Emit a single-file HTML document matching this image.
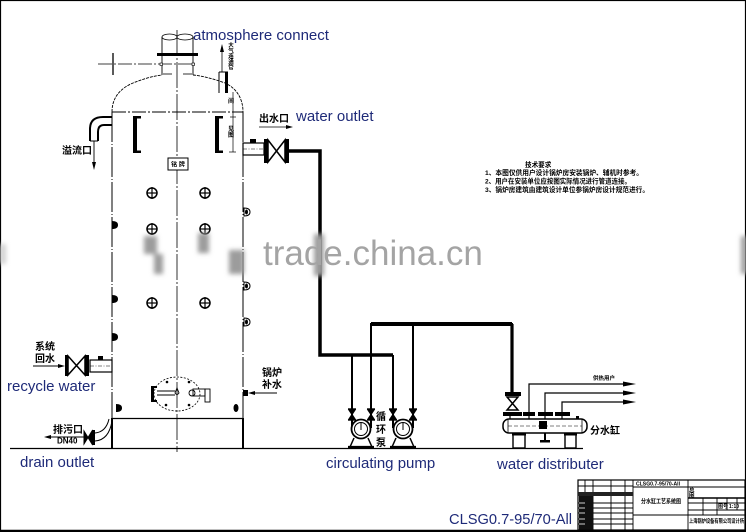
<!DOCTYPE html>
<html><head><meta charset="utf-8">
<style>
html,body{margin:0;padding:0;background:#fff;}
svg{display:block;}
.en{font-family:"Liberation Sans",sans-serif;font-size:15px;fill:#1e2a78;}
.cn{font-family:"Liberation Sans","Noto Sans CJK SC",sans-serif;font-weight:bold;fill:#000;}
</style></head><body>
<svg width="746" height="532" viewBox="0 0 746 532" xmlns="http://www.w3.org/2000/svg">
<defs>
 <filter id="bl" x="-80%" y="-50%" width="260%" height="200%"><feGaussianBlur stdDeviation="2.5"/></filter>
</defs>
<rect x="0.5" y="0.5" width="745" height="531" fill="#fff" stroke="#000" stroke-width="1.2"/>

<!-- ===== VESSEL ===== -->
<g stroke="#000" fill="none">
 <!-- center line -->
 <line x1="177" y1="30" x2="177" y2="452" stroke-width="0.8" stroke-dasharray="26 2 2 2"/>
 <!-- walls -->
 <line x1="112" y1="112" x2="112" y2="418" stroke-width="1" stroke-dasharray="30 2 1 2"/>
 <line x1="243" y1="112" x2="243" y2="418" stroke-width="1" stroke-dasharray="30 2 1 2"/>
 <line x1="112" y1="112" x2="243" y2="112" stroke-width="0.9" stroke-dasharray="14 2 2 2"/>
 <!-- dome -->
 <path d="M112,112 C112,97 121,88 133,83 C143,79 153,76 162,75" stroke-width="0.9" stroke-dasharray="3 1"/>
 <path d="M193,75 C203,76 214,79 225,83 C236,88 243,98 243,112" stroke-width="0.9" stroke-dasharray="3 1"/>
 <!-- neck tubes -->
 <line x1="162" y1="37" x2="162" y2="75" stroke-width="0.9"/>
 <line x1="193" y1="37" x2="193" y2="75" stroke-width="0.9"/>
 <ellipse cx="169.5" cy="37" rx="7.5" ry="3" stroke-width="0.8"/>
 <ellipse cx="185" cy="37" rx="8" ry="3" stroke-width="0.8"/>
 <!-- left horizontal with cross -->
 <line x1="98" y1="64" x2="195" y2="64" stroke-width="0.8" stroke-dasharray="14 2 2 2"/>
 <line x1="113" y1="53" x2="113" y2="75" stroke-width="1.3"/>
 <!-- base -->
 <line x1="112" y1="418.5" x2="243" y2="418.5" stroke-width="1.2"/>
 <line x1="112" y1="418" x2="112" y2="448" stroke-width="2"/>
 <line x1="243" y1="418" x2="243" y2="448" stroke-width="2"/>
</g>
<rect x="157" y="53" width="41" height="3" fill="#000"/>
<rect x="160" y="63" width="2.5" height="2.5" fill="#fff" stroke="#000" stroke-width="0.6"/>
<rect x="192" y="63" width="2.5" height="2.5" fill="#fff" stroke="#000" stroke-width="0.6"/>
<rect x="163" y="73" width="9" height="2" fill="#999"/>
<rect x="183" y="73" width="9" height="2" fill="#999"/>

<!-- atmosphere pipe -->
<g stroke="#000" fill="none">
 <line x1="219" y1="72" x2="219" y2="93" stroke-width="1"/>
 <line x1="219" y1="72" x2="228" y2="72" stroke-width="1"/>
 <line x1="222" y1="72" x2="222" y2="50" stroke-width="0.8"/>
 <line x1="233" y1="92" x2="233" y2="152" stroke-width="0.7"/>
 <line x1="230" y1="117" x2="236" y2="117" stroke-width="0.7"/>
 <line x1="229" y1="152" x2="236" y2="152" stroke-width="0.7"/>
</g>
<rect x="225" y="72" width="3" height="21" fill="#000"/>
<polygon points="222,44 220,52 224,52" fill="#000"/>
<g class="cn" font-size="5.5" text-anchor="middle">
 <text x="231" y="47">大</text><text x="231" y="52.5">气</text><text x="231" y="58">连</text><text x="231" y="63.5">通</text><text x="231" y="69">管</text>
 <text x="231" y="103" font-size="6">间</text>
 <text x="231" y="131" font-size="6">见</text><text x="231" y="137" font-size="6">图</text>
</g>

<!-- sight glass brackets -->
<g fill="#000">
 <rect x="133" y="116" width="4" height="37"/><rect x="133" y="116" width="8" height="2.5"/><rect x="133" y="150.5" width="8" height="2.5"/>
 <rect x="215" y="116" width="4" height="37"/><rect x="215" y="116" width="8" height="2.5"/><rect x="215" y="150.5" width="8" height="2.5"/>
</g>

<!-- nameplate -->
<rect x="168" y="158" width="20" height="12" fill="#fff" stroke="#000" stroke-width="1"/>
<text class="cn" x="178" y="166.5" font-size="6" text-anchor="middle">铭 牌</text>

<!-- crossed circles -->
<g stroke="#000" stroke-width="1.5" fill="#fff">
 <circle cx="152" cy="193" r="5"/><circle cx="205" cy="193" r="5"/>
 <circle cx="152" cy="229" r="5"/><circle cx="205" cy="229" r="5"/>
 <circle cx="152" cy="303" r="5"/><circle cx="205" cy="303" r="5"/>
</g>
<g stroke="#000" stroke-width="1.2">
 <line x1="152" y1="187" x2="152" y2="199"/><line x1="147" y1="193" x2="157" y2="193"/>
 <line x1="205" y1="187" x2="205" y2="199"/><line x1="200" y1="193" x2="210" y2="193"/>
 <line x1="152" y1="223" x2="152" y2="235"/><line x1="147" y1="229" x2="157" y2="229"/>
 <line x1="205" y1="223" x2="205" y2="235"/><line x1="200" y1="229" x2="210" y2="229"/>
 <line x1="152" y1="297" x2="152" y2="309"/><line x1="147" y1="303" x2="157" y2="303"/>
 <line x1="205" y1="297" x2="205" y2="309"/><line x1="200" y1="303" x2="210" y2="303"/>
</g>

<!-- wall nozzles -->
<g fill="#000">
 <path d="M112,221 Q118,221 118,225 Q118,229 112,229 Z"/>
 <path d="M112,295 Q118,295 118,299 Q118,303 112,303 Z"/>
 <path d="M112,333 Q118,333 118,337 Q118,341 112,341 Z"/>
 <path d="M116,404 Q122,404 122,408 Q122,412 116,412 Z"/>
 <ellipse cx="236" cy="408" rx="2.5" ry="4"/>
</g>
<g stroke="#000" stroke-width="1" fill="#fff">
 <path d="M244,208 Q250,208 250,212 Q250,216 244,216 Z"/>
 <path d="M244,282 Q250,282 250,286 Q250,290 244,290 Z"/>
 <path d="M244,318 Q250,318 250,322 Q250,326 244,326 Z"/>
</g>
<g fill="#000">
 <ellipse cx="246.5" cy="212" rx="1.5" ry="2.5"/><ellipse cx="246.5" cy="286" rx="1.5" ry="2.5"/><ellipse cx="246.5" cy="322" rx="1.5" ry="2.5"/>
</g>

<!-- bottom manhole -->
<ellipse cx="177" cy="394" rx="23" ry="17" fill="none" stroke="#000" stroke-width="0.8" stroke-dasharray="2 1.5"/>
<g fill="#000">
 <circle cx="167" cy="382" r="1.3"/><circle cx="189" cy="382" r="1.3"/>
 <circle cx="166" cy="405" r="1.3"/><circle cx="189" cy="405" r="1.3"/>
 <rect x="151" y="386" width="3" height="16"/><rect x="151" y="386" width="6" height="2"/><rect x="151" y="400" width="6" height="2"/>
</g>
<g stroke="#000" fill="none" stroke-width="0.9">
 <line x1="157" y1="391" x2="175" y2="391"/><line x1="157" y1="395" x2="175" y2="395"/>
 <path d="M177,388 L175,393 Q177,396 179,393 Z"/>
 <circle cx="192" cy="393" r="3"/>
 <rect x="193" y="389" width="12" height="7"/>
 <rect x="205" y="389" width="5" height="13"/>
</g>

<!-- ground line -->
<line x1="10" y1="448.5" x2="583" y2="448.5" stroke="#000" stroke-width="1.2"/>

<!-- overflow elbow -->
<g stroke="#000" fill="none" stroke-width="2">
 <path d="M112,117 L103,117 Q90,117 90,129 L90,141"/>
 <path d="M112,125 L104,125 Q98,125 98,132 L98,141"/>
 <line x1="90" y1="141" x2="98" y2="141" stroke-width="1"/>
 <line x1="94" y1="141" x2="94" y2="163" stroke-width="0.9"/>
</g>
<polygon points="94,170 92,162 96,162" fill="#000"/>
<text class="cn" x="62" y="154" font-size="10">溢流口</text>

<!-- water outlet -->
<rect x="243" y="143" width="21" height="12" fill="#fff" stroke="#000" stroke-width="1.2"/>
<line x1="243" y1="149" x2="264" y2="149" stroke="#000" stroke-width="0.6" stroke-dasharray="4 1.5 1 1.5"/>
<rect x="250" y="139" width="6" height="4" fill="#000"/>
<rect x="264" y="139" width="4" height="24" fill="#000"/>
<path d="M268,140 L285,162 L285,140 L268,162 Z" fill="none" stroke="#000" stroke-width="1.5"/>
<rect x="285" y="139" width="4" height="24" fill="#000"/>
<text class="cn" x="259" y="122" font-size="10">出水口</text>
<line x1="259" y1="127" x2="288" y2="127" stroke="#000" stroke-width="0.8"/>
<polygon points="293,127 286,125 286,129" fill="#000"/>

<!-- pipes -->
<g stroke="#000" fill="none">
 <polyline points="289,151 320,151 320,355 393,355" stroke-width="3.5"/>
 <line x1="352" y1="355" x2="352" y2="428" stroke-width="2"/>
 <line x1="393" y1="355" x2="393" y2="428" stroke-width="2"/>
 <polyline points="371,428 371,324 512,324 512,393" stroke-width="2"/>
 <line x1="371" y1="324" x2="512" y2="324" stroke-width="4"/>
 <line x1="512" y1="324" x2="512" y2="393" stroke-width="3.2"/>
 <line x1="413" y1="324" x2="413" y2="428" stroke-width="2"/>
</g>

<!-- small pump valves -->
<g stroke="#000" stroke-width="1.2" fill="#000">
 <path d="M349,410 L355,419 L349,419 L355,410 Z"/>
 <path d="M368,410 L374,419 L368,419 L374,410 Z"/>
 <path d="M390,410 L396,419 L390,419 L396,410 Z"/>
 <path d="M410,410 L416,419 L410,419 L416,410 Z"/>
</g>
<g stroke="#000" stroke-width="1.4">
 <line x1="348" y1="409" x2="356" y2="409"/><line x1="348" y1="420" x2="356" y2="420"/>
 <line x1="367" y1="409" x2="375" y2="409"/><line x1="367" y1="420" x2="375" y2="420"/>
 <line x1="389" y1="409" x2="397" y2="409"/><line x1="389" y1="420" x2="397" y2="420"/>
 <line x1="409" y1="409" x2="417" y2="409"/><line x1="409" y1="420" x2="417" y2="420"/>
</g>

<!-- pumps -->
<g stroke="#000" fill="#fff">
 <circle cx="361" cy="429" r="9.5" stroke-width="1.8"/>
 <circle cx="361" cy="429" r="6.5" stroke-width="1"/>
 <circle cx="403" cy="429" r="9.5" stroke-width="1.8"/>
 <circle cx="403" cy="429" r="6.5" stroke-width="1"/>
</g>
<g stroke="#000" fill="none">
 <line x1="361" y1="422" x2="361" y2="430" stroke-width="1"/>
 <line x1="403" y1="422" x2="403" y2="430" stroke-width="1"/>
 <path d="M354,438 L350,447 M368,438 L372,447" stroke-width="1.5"/>
 <path d="M396,438 L392,447 M410,438 L414,447" stroke-width="1.5"/>
 <line x1="348" y1="447" x2="374" y2="447" stroke-width="2.2"/>
 <line x1="390" y1="447" x2="416" y2="447" stroke-width="2.2"/>
</g>
<g class="cn" font-size="10" text-anchor="middle">
 <text x="381" y="420">循</text><text x="381" y="433">环</text><text x="381" y="446">泵</text>
</g>

<!-- distributor -->
<rect x="505" y="392" width="16" height="4" fill="#000"/>
<path d="M507,397 L518,410 L507,410 L518,397 Z" fill="none" stroke="#000" stroke-width="1.5"/>
<g fill="#000">
 <rect x="503" y="412" width="19" height="4"/>
 <rect x="523" y="412" width="12" height="4"/>
 <rect x="538" y="412" width="15" height="4"/>
 <rect x="555" y="412" width="15" height="4"/>
</g>
<g stroke="#000" stroke-width="1.2" fill="none">
 <line x1="510" y1="416" x2="510" y2="419"/><line x1="529" y1="416" x2="529" y2="419"/>
 <line x1="545" y1="416" x2="545" y2="419"/><line x1="562" y1="416" x2="562" y2="419"/>
 <polyline points="529,412 529,384 624,384"/>
 <polyline points="545,412 545,393 624,393"/>
 <polyline points="562,412 562,402 624,402"/>
</g>
<g fill="#000">
 <polygon points="636,384 623,381.5 623,386.5"/>
 <polygon points="636,393 623,390.5 623,395.5"/>
 <polygon points="636,402 623,399.5 623,404.5"/>
</g>
<rect x="503" y="419" width="84" height="14" rx="6" fill="#fff" stroke="#000" stroke-width="1.5"/>
<line x1="508" y1="419" x2="508" y2="433" stroke="#000" stroke-width="0.8"/>
<line x1="582" y1="419" x2="582" y2="433" stroke="#000" stroke-width="0.8"/>
<line x1="508" y1="426" x2="582" y2="426" stroke="#000" stroke-width="0.5" stroke-dasharray="4 2"/>
<rect x="539" y="421" width="8" height="8" fill="#000"/>
<rect x="576" y="416" width="3" height="3" fill="#000"/>
<g stroke="#000" fill="#fff" stroke-width="1.4">
 <rect x="513" y="434" width="12" height="14"/>
 <rect x="565" y="434" width="11" height="14"/>
</g>
<g fill="#000">
 <rect x="512" y="433" width="14" height="2.5"/><rect x="564" y="433" width="13" height="2.5"/>
 <rect x="544" y="433" width="2" height="7"/><rect x="540" y="440" width="10" height="2.5"/>
</g>
<text class="cn" x="590" y="434" font-size="10">分水缸</text>
<text class="cn" x="593" y="380" font-size="5.5">供热用户</text>

<!-- recycle water inlet -->
<line x1="33" y1="366" x2="60" y2="366" stroke="#000" stroke-width="0.9"/>
<polygon points="65,366 58,364 58,368" fill="#000"/>
<rect x="65" y="355" width="3" height="21" fill="#000"/>
<path d="M68,356 L85,375 L85,356 L68,375 Z" fill="none" stroke="#000" stroke-width="1.5"/>
<rect x="85" y="355" width="4" height="21" fill="#000"/>
<rect x="90" y="360" width="22" height="12" fill="#fff" stroke="#000" stroke-width="1.2"/>
<line x1="90" y1="366" x2="112" y2="366" stroke="#000" stroke-width="0.6" stroke-dasharray="4 1.5 1 1.5"/>
<rect x="98" y="356" width="5" height="4" fill="#000"/>
<text class="cn" x="35" y="350" font-size="10">系统</text>
<text class="cn" x="35" y="362" font-size="10">回水</text>

<!-- drain -->
<line x1="49" y1="437" x2="84" y2="437" stroke="#000" stroke-width="0.9"/>
<polygon points="44,437 51,435 51,439" fill="#000"/>
<path d="M84,431 L92,444 L92,431 L84,444 Z" fill="#000" stroke="#000" stroke-width="1"/>
<rect x="92" y="430" width="3" height="15" fill="#000"/>
<path d="M95,433 Q106,432 109,419 M95,441 Q109,440 112,421" fill="none" stroke="#000" stroke-width="1"/>
<text class="cn" x="53" y="433" font-size="10">排污口</text>
<text class="cn" x="57" y="443.5" font-size="8">DN40</text>

<!-- boiler make-up water -->
<rect x="243" y="390" width="5" height="6" fill="#000"/>
<line x1="253" y1="393" x2="277" y2="393" stroke="#000" stroke-width="0.9"/>
<polygon points="248,393 255,391 255,395" fill="#000"/>
<text class="cn" x="262" y="376" font-size="10">锅炉</text>
<text class="cn" x="262" y="388" font-size="10">补水</text>

<!-- technical notes -->
<g class="cn" font-size="6.6">
 <text x="525" y="167">技术要求</text>
 <text x="485" y="175" textLength="158" lengthAdjust="spacingAndGlyphs">1、本图仅供用户设计锅炉房安装锅炉、辅机时参考。</text>
 <text x="485" y="183.5" textLength="146" lengthAdjust="spacingAndGlyphs">2、用户在安装单位应按图实际情况进行管道连接。</text>
 <text x="485" y="192" textLength="164" lengthAdjust="spacingAndGlyphs">3、锅炉房建筑由建筑设计单位参锅炉房设计规范进行。</text>
</g>

<!-- watermark blurs -->
<g filter="url(#bl)" fill="#9c9c9c">
 <rect x="144" y="236" width="13" height="18"/>
 <rect x="198" y="233" width="11" height="20"/>
 <rect x="154" y="254" width="9" height="20"/>
 <rect x="229" y="250" width="15" height="24"/>
 <rect x="314" y="234" width="10" height="42"/>
 <rect x="741" y="236" width="6" height="38"/>
 <rect x="0" y="244" width="6" height="20" fill="#d0d0d0"/>
</g>
<text x="263" y="265" font-family="Liberation Sans, sans-serif" font-size="35" fill="#a4a4a4">trade.china.cn</text>

<!-- English labels -->
<text class="en" x="193" y="40">atmosphere connect</text>
<text class="en" x="296" y="121">water outlet</text>
<text class="en" x="7" y="391">recycle water</text>
<text class="en" x="20" y="467">drain outlet</text>
<text class="en" x="326" y="468">circulating pump</text>
<text class="en" x="497" y="469">water distributer</text>
<text class="en" x="449" y="524" font-size="15.5" textLength="123" lengthAdjust="spacingAndGlyphs">CLSG0.7-95/70-All</text>

<!-- title block -->
<g stroke="#000" fill="none" stroke-width="0.9">
 <rect x="578" y="480" width="167" height="50" stroke-width="1.2"/>
 <line x1="585" y1="480" x2="585" y2="530"/>
 <line x1="593" y1="480" x2="593" y2="530"/>
 <line x1="611" y1="480" x2="611" y2="530"/>
 <line x1="625" y1="480" x2="625" y2="530"/>
 <line x1="633" y1="480" x2="633" y2="530"/>
 <line x1="688" y1="480" x2="688" y2="530"/>
 <line x1="578" y1="486" x2="633" y2="486"/>
 <line x1="578" y1="503" x2="633" y2="503"/>
 <line x1="578" y1="508" x2="633" y2="508"/>
 <line x1="578" y1="513" x2="633" y2="513"/>
 <line x1="578" y1="519" x2="633" y2="519"/>
 <line x1="578" y1="524" x2="633" y2="524"/>
 <line x1="633" y1="487" x2="745" y2="487"/>
 <line x1="633" y1="515" x2="688" y2="515"/>
 <line x1="688" y1="498" x2="745" y2="498" stroke-width="1.4"/>
 <line x1="688" y1="503" x2="745" y2="503"/>
 <line x1="688" y1="510" x2="745" y2="510"/>
 <line x1="688" y1="515" x2="745" y2="515"/>
 <line x1="703" y1="498" x2="703" y2="515"/>
 <line x1="717" y1="498" x2="717" y2="515"/>
 <line x1="727" y1="498" x2="727" y2="510"/>
 <line x1="737" y1="498" x2="737" y2="510"/>
</g>
<rect x="578" y="492" width="55" height="4" fill="#222"/>
<rect x="579" y="496" width="14" height="34" fill="#111"/>
<g stroke="#fff" stroke-width="0.8">
 <line x1="579" y1="503" x2="585" y2="503"/><line x1="579" y1="508" x2="585" y2="508"/>
 <line x1="579" y1="513" x2="585" y2="513"/><line x1="579" y1="519" x2="585" y2="519"/>
 <line x1="579" y1="524" x2="585" y2="524"/>
</g>
<g class="cn" font-size="5.5">
 <text x="636" y="485.5" textLength="44" lengthAdjust="spacingAndGlyphs">CLSG0.7-95/70-All</text>
 <text x="641" y="503.5" font-size="6" textLength="40" lengthAdjust="spacingAndGlyphs">分水缸工艺系统图</text>
 <text x="689" y="492">总</text><text x="689" y="497.5">图</text>
 <text x="718" y="508" font-size="5">图号</text><text x="729" y="508" font-size="5">1:10</text>
 <text x="689" y="523" textLength="55" lengthAdjust="spacingAndGlyphs">上海锅炉设备有限公司设计所</text>
</g>
<line x1="0" y1="530.5" x2="746" y2="530.5" stroke="#000" stroke-width="1.6"/>
</svg>
</body></html>
